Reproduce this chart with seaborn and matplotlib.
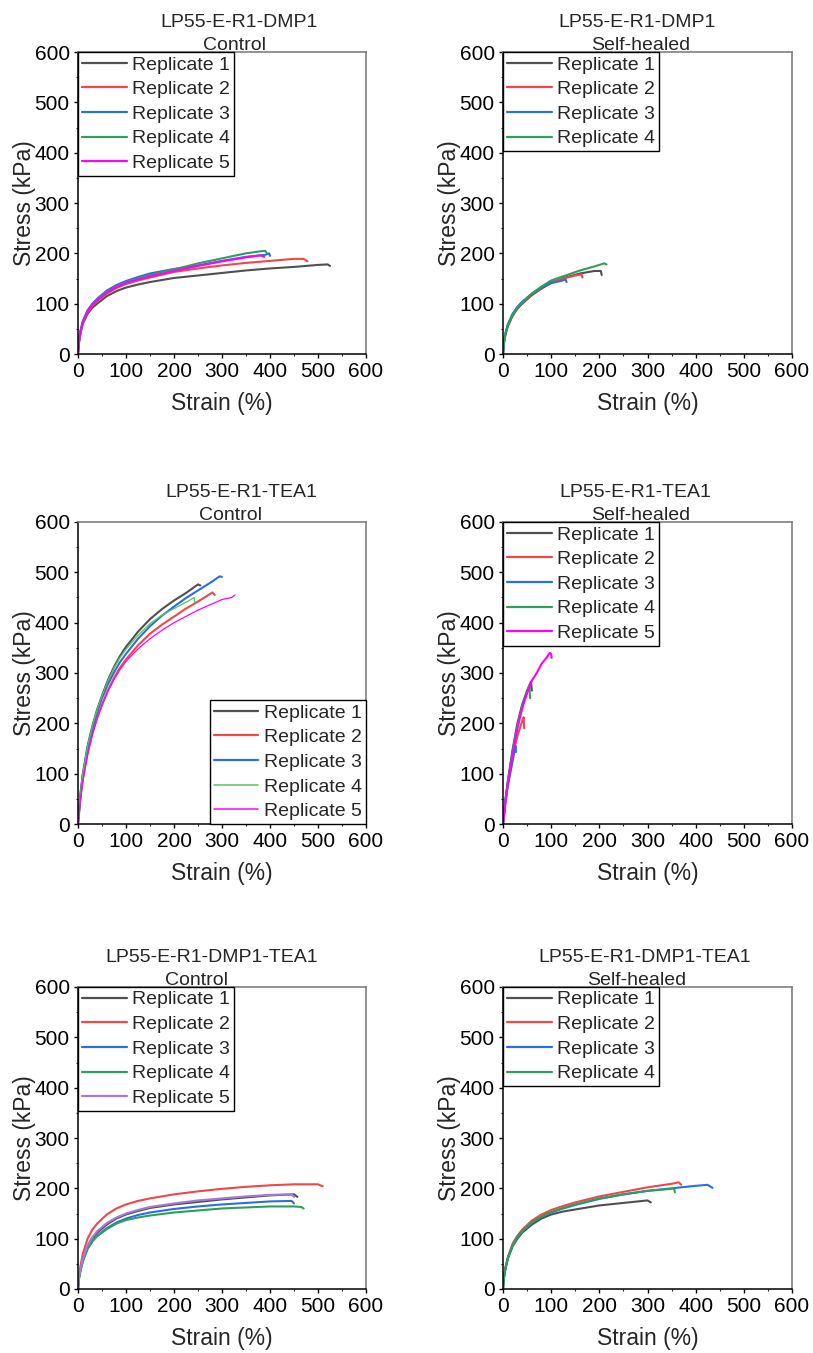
import matplotlib
matplotlib.use("Agg")
import matplotlib.pyplot as plt
from matplotlib.lines import Line2D
from matplotlib.ticker import MultipleLocator
import seaborn as sns
import pandas as pd

# ---------------------------------------------------------------- data
# Stress (kPa) vs strain (%) for each replicate, one pair of lists per curve.

# LP55-E-R1-DMP1, control
dmp_ctrl_r1_x = [0, 2, 5, 10, 20, 30, 40, 60, 80, 100, 125, 150, 200, 250, 300, 350, 400, 450, 500, 520, 525]
dmp_ctrl_r1_y = [0, 22, 40, 60, 80, 92, 100, 115, 125, 132, 138, 143, 151, 156, 161, 166, 170, 173, 177, 178, 175]
dmp_ctrl_r2_x = [0, 2, 5, 10, 20, 30, 40, 60, 80, 100, 125, 150, 200, 250, 300, 350, 400, 450, 470, 478]
dmp_ctrl_r2_y = [0, 24, 42, 62, 83, 96, 105, 120, 131, 139, 146, 152, 163, 170, 176, 181, 185, 189, 189, 184]
dmp_ctrl_r3_x = [0, 2, 5, 10, 20, 30, 40, 60, 80, 100, 125, 150, 200, 250, 300, 350, 390, 398, 400]
dmp_ctrl_r3_y = [0, 26, 45, 65, 87, 100, 110, 126, 137, 145, 153, 160, 169, 176, 185, 193, 197, 200, 195]
dmp_ctrl_r4_x = [0, 2, 5, 10, 20, 30, 40, 60, 80, 100, 125, 150, 200, 250, 300, 350, 380, 390, 393]
dmp_ctrl_r4_y = [0, 25, 44, 64, 86, 99, 108, 123, 134, 142, 150, 157, 168, 180, 190, 200, 204, 205, 201]
dmp_ctrl_r5_x = [0, 2, 5, 10, 20, 30, 40, 60, 80, 100, 125, 150, 200, 250, 300, 350, 380, 388]
dmp_ctrl_r5_y = [0, 25, 44, 63, 85, 98, 107, 122, 133, 141, 148, 154, 165, 175, 184, 192, 196, 193]

# LP55-E-R1-DMP1, self-healed
dmp_heal_r1_x = [0, 2, 5, 10, 20, 30, 40, 60, 80, 100, 130, 160, 190, 203, 205]
dmp_heal_r1_y = [0, 22, 38, 55, 76, 90, 100, 117, 130, 141, 152, 160, 165, 165, 157]
dmp_heal_r2_x = [0, 2, 5, 10, 20, 30, 40, 60, 80, 100, 130, 150, 163, 165]
dmp_heal_r2_y = [0, 23, 40, 57, 78, 92, 102, 119, 132, 143, 151, 156, 158, 152]
dmp_heal_r3_x = [0, 2, 5, 10, 20, 30, 40, 60, 80, 100, 120, 130, 132]
dmp_heal_r3_y = [0, 24, 41, 59, 80, 94, 104, 120, 133, 141, 145, 148, 143]
dmp_heal_r4_x = [0, 2, 5, 10, 20, 30, 40, 60, 80, 100, 130, 160, 190, 210, 215]
dmp_heal_r4_y = [0, 23, 40, 57, 78, 92, 102, 120, 134, 146, 156, 166, 174, 180, 178]

# LP55-E-R1-TEA1, control
tea_ctrl_r1_x = [0, 5, 10, 20, 30, 40, 50, 62, 75, 87, 100, 125, 150, 175, 200, 225, 250, 255]
tea_ctrl_r1_y = [0, 60, 100, 155, 195, 228, 255, 285, 312, 333, 352, 382, 407, 427, 444, 459, 476, 474]
tea_ctrl_r2_x = [0, 5, 10, 20, 30, 40, 50, 62, 75, 87, 100, 125, 150, 175, 200, 225, 250, 280, 285]
tea_ctrl_r2_y = [0, 50, 88, 140, 180, 212, 237, 265, 290, 310, 327, 355, 378, 396, 412, 428, 442, 460, 455]
tea_ctrl_r3_x = [0, 5, 10, 20, 30, 40, 50, 62, 75, 87, 100, 125, 150, 175, 200, 225, 250, 280, 295, 300]
tea_ctrl_r3_y = [0, 55, 95, 150, 190, 222, 250, 277, 301, 321, 338, 368, 393, 414, 432, 449, 464, 482, 492, 491]
tea_ctrl_r4_x = [0, 5, 10, 20, 30, 40, 50, 62, 75, 87, 100, 125, 150, 175, 200, 230, 242, 243]
tea_ctrl_r4_y = [0, 60, 100, 155, 195, 228, 255, 284, 310, 330, 347, 375, 398, 415, 428, 443, 450, 440]
tea_ctrl_r5_x = [0, 5, 10, 20, 30, 40, 50, 62, 75, 87, 100, 125, 150, 175, 200, 250, 300, 320, 327]
tea_ctrl_r5_y = [0, 50, 85, 138, 178, 209, 235, 263, 287, 306, 323, 348, 368, 385, 400, 425, 446, 450, 455]

# LP55-E-R1-TEA1, self-healed
tea_heal_r1_x = [0, 5, 10, 20, 30, 40, 50, 58, 60]
tea_heal_r1_y = [0, 48, 85, 148, 200, 238, 265, 283, 265]
tea_heal_r2_x = [0, 5, 10, 20, 30, 40, 43, 44]
tea_heal_r2_y = [0, 45, 80, 135, 175, 205, 212, 190]
tea_heal_r3_x = [0, 5, 10, 20, 25, 26, 27]
tea_heal_r3_y = [0, 42, 75, 125, 150, 155, 143]
tea_heal_r4_x = [0, 5, 10, 20, 30, 40, 50, 55, 56]
tea_heal_r4_y = [0, 46, 83, 145, 196, 234, 262, 275, 250]
tea_heal_r5_x = [0, 5, 10, 20, 30, 40, 50, 60, 70, 80, 90, 97, 100, 101]
tea_heal_r5_y = [0, 45, 80, 140, 190, 230, 260, 285, 300, 318, 330, 340, 338, 330]

# LP55-E-R1-DMP1-TEA1, control
mix_ctrl_r1_x = [0, 2, 5, 10, 20, 30, 40, 60, 80, 100, 125, 150, 200, 250, 300, 350, 400, 450, 457]
mix_ctrl_r1_y = [0, 22, 38, 58, 85, 101, 112, 128, 140, 148, 155, 161, 168, 173, 178, 182, 186, 188, 183]
mix_ctrl_r2_x = [0, 2, 5, 10, 20, 30, 40, 60, 80, 100, 125, 150, 200, 250, 300, 350, 400, 450, 500, 510]
mix_ctrl_r2_y = [0, 26, 45, 70, 100, 118, 130, 148, 160, 168, 175, 180, 188, 194, 199, 203, 206, 208, 208, 204]
mix_ctrl_r3_x = [0, 2, 5, 10, 20, 30, 40, 60, 80, 100, 125, 150, 200, 250, 300, 350, 400, 445, 450]
mix_ctrl_r3_y = [0, 21, 36, 55, 80, 95, 106, 121, 132, 140, 147, 152, 159, 164, 168, 171, 174, 175, 170]
mix_ctrl_r4_x = [0, 2, 5, 10, 20, 30, 40, 60, 80, 100, 125, 150, 200, 250, 300, 350, 400, 450, 465, 470]
mix_ctrl_r4_y = [0, 21, 36, 55, 80, 95, 105, 119, 130, 137, 142, 146, 152, 156, 160, 162, 164, 164, 163, 160]
mix_ctrl_r5_x = [0, 2, 5, 10, 20, 30, 40, 60, 80, 100, 125, 150, 200, 250, 300, 350, 400, 445, 450]
mix_ctrl_r5_y = [0, 22, 39, 60, 87, 103, 115, 131, 142, 150, 157, 163, 170, 176, 180, 184, 187, 188, 183]

# LP55-E-R1-DMP1-TEA1, self-healed
mix_heal_r1_x = [0, 2, 5, 10, 20, 30, 40, 60, 80, 100, 125, 150, 200, 250, 300, 307]
mix_heal_r1_y = [0, 23, 40, 60, 85, 100, 112, 128, 140, 148, 154, 158, 166, 171, 176, 172]
mix_heal_r2_x = [0, 2, 5, 10, 20, 30, 40, 60, 80, 100, 125, 150, 200, 250, 300, 350, 365, 370]
mix_heal_r2_y = [0, 24, 42, 63, 90, 106, 118, 136, 148, 157, 165, 172, 184, 193, 202, 209, 212, 207]
mix_heal_r3_x = [0, 2, 5, 10, 20, 30, 40, 60, 80, 100, 125, 150, 200, 250, 300, 350, 400, 425, 435]
mix_heal_r3_y = [0, 23, 41, 61, 87, 103, 115, 132, 144, 152, 160, 167, 179, 188, 195, 200, 205, 207, 201]
mix_heal_r4_x = [0, 2, 5, 10, 20, 30, 40, 60, 80, 100, 125, 150, 200, 250, 300, 350, 355, 357]
mix_heal_r4_y = [0, 23, 41, 61, 87, 103, 115, 132, 144, 153, 161, 168, 180, 188, 195, 199, 200, 192]

replicate_labels = ["Replicate 1", "Replicate 2", "Replicate 3", "Replicate 4", "Replicate 5"]
sample_names = ["LP55-E-R1-DMP1", "LP55-E-R1-TEA1", "LP55-E-R1-DMP1-TEA1"]
condition_names = ["Control", "Self-healed"]
axis_ticks = [0, 100, 200, 300, 400, 500, 600]

# ---------------------------------------------------------------- style
sns.set_style("ticks")
plt.rcParams["font.family"] = ["Liberation Sans", "DejaVu Sans"]

GREY, RED, BLUE, GREEN, MAGENTA = "#505050", "#f04848", "#2a70dc", "#2e9e5e", "#ff00ff"
LIGHT_GREEN, PURPLE = "#5cc25c", "#a878d8"

panels = [
    # (row, col, curves, colours, widths, legend loc, title x-offsets)
    (0, 0, [(dmp_ctrl_r1_x, dmp_ctrl_r1_y), (dmp_ctrl_r2_x, dmp_ctrl_r2_y), (dmp_ctrl_r3_x, dmp_ctrl_r3_y),
            (dmp_ctrl_r4_x, dmp_ctrl_r4_y), (dmp_ctrl_r5_x, dmp_ctrl_r5_y)],
     [GREY, RED, BLUE, GREEN, MAGENTA], [1.5] * 5, "upper left", (0.559, 0.545)),
    (0, 1, [(dmp_heal_r1_x, dmp_heal_r1_y), (dmp_heal_r2_x, dmp_heal_r2_y), (dmp_heal_r3_x, dmp_heal_r3_y),
            (dmp_heal_r4_x, dmp_heal_r4_y)],
     [GREY, RED, BLUE, GREEN], [1.5] * 4, "upper left", (0.465, 0.478)),
    (1, 0, [(tea_ctrl_r1_x, tea_ctrl_r1_y), (tea_ctrl_r2_x, tea_ctrl_r2_y), (tea_ctrl_r3_x, tea_ctrl_r3_y),
            (tea_ctrl_r4_x, tea_ctrl_r4_y), (tea_ctrl_r5_x, tea_ctrl_r5_y)],
     [GREY, RED, BLUE, LIGHT_GREEN, MAGENTA], [1.5, 1.5, 1.5, 0.9, 0.9], "lower right", (0.566, 0.528)),
    (1, 1, [(tea_heal_r1_x, tea_heal_r1_y), (tea_heal_r2_x, tea_heal_r2_y), (tea_heal_r3_x, tea_heal_r3_y),
            (tea_heal_r4_x, tea_heal_r4_y), (tea_heal_r5_x, tea_heal_r5_y)],
     [GREY, RED, BLUE, GREEN, MAGENTA], [1.5] * 5, "upper left", (0.457, 0.478)),
    (2, 0, [(mix_ctrl_r1_x, mix_ctrl_r1_y), (mix_ctrl_r2_x, mix_ctrl_r2_y), (mix_ctrl_r3_x, mix_ctrl_r3_y),
            (mix_ctrl_r4_x, mix_ctrl_r4_y), (mix_ctrl_r5_x, mix_ctrl_r5_y)],
     [GREY, RED, BLUE, GREEN, PURPLE], [1.5] * 5, "upper left", (0.465, 0.413)),
    (2, 1, [(mix_heal_r1_x, mix_heal_r1_y), (mix_heal_r2_x, mix_heal_r2_y), (mix_heal_r3_x, mix_heal_r3_y),
            (mix_heal_r4_x, mix_heal_r4_y)],
     [GREY, RED, BLUE, GREEN], [1.5] * 4, "upper left", (0.491, 0.464)),
]

W, H = 813, 1353
fig = plt.figure(figsize=(W / 100, H / 100), dpi=100)

col_left = [78, 503]
col_width = [288, 289]
row_top = [52, 522, 987]
ax_height = 302

for row, col, curves, colours, widths, loc, (t1x, t2x) in panels:
    left = col_left[col] / W
    bottom = 1 - (row_top[row] + ax_height) / H
    ax = fig.add_axes([left, bottom, col_width[col] / W, ax_height / H])

    handles = []
    for i, ((xs, ys), c, lw) in enumerate(zip(curves, colours, widths)):
        df = pd.DataFrame({"strain": xs, "stress": ys})
        sns.lineplot(data=df, x="strain", y="stress", ax=ax, color=c, lw=lw,
                     sort=False, estimator=None, legend=False)
        handles.append(Line2D([0], [0], color=c, lw=1.6 if lw > 1 else 1.1, label=replicate_labels[i]))

    ax.set_xlim(axis_ticks[0], axis_ticks[-1])
    ax.set_ylim(axis_ticks[0], axis_ticks[-1])
    ax.set_xticks(axis_ticks)
    ax.set_yticks(axis_ticks)
    ax.xaxis.set_minor_locator(MultipleLocator(50))
    ax.yaxis.set_minor_locator(MultipleLocator(50))
    ax.tick_params(which="major", direction="out", length=3, width=1, labelsize=15, pad=3,
                   colors="black")
    ax.tick_params(which="minor", direction="out", length=1.6, width=0.8)
    ax.tick_params(top=False, right=False, which="both")

    for side in ("left", "bottom"):
        ax.spines[side].set_color("black")
        ax.spines[side].set_linewidth(1.1)
    for side in ("top", "right"):
        ax.spines[side].set_visible(True)
        ax.spines[side].set_color("#808080")
        ax.spines[side].set_linewidth(1.2)

    ax.set_xlabel("Strain (%)", fontsize=16.5, labelpad=8)
    ax.set_ylabel("Stress (kPa)", fontsize=16.5, labelpad=-1)

    leg = ax.legend(handles=handles, loc=loc, fontsize=14, frameon=True, fancybox=False,
                    borderaxespad=0, borderpad=0.2, labelspacing=0.36, handlelength=2.3,
                    handletextpad=0.3)
    leg.get_frame().set_edgecolor("black")
    leg.get_frame().set_linewidth(1.0)
    leg.get_frame().set_alpha(1)

    ax.text(t1x, 1 + 25 / ax_height, sample_names[row], transform=ax.transAxes,
            ha="center", va="baseline", fontsize=14)
    ax.text(t2x, 1 + 2 / ax_height, condition_names[col], transform=ax.transAxes,
            ha="center", va="baseline", fontsize=14)

fig.savefig("out.png", dpi=100, facecolor="white")
